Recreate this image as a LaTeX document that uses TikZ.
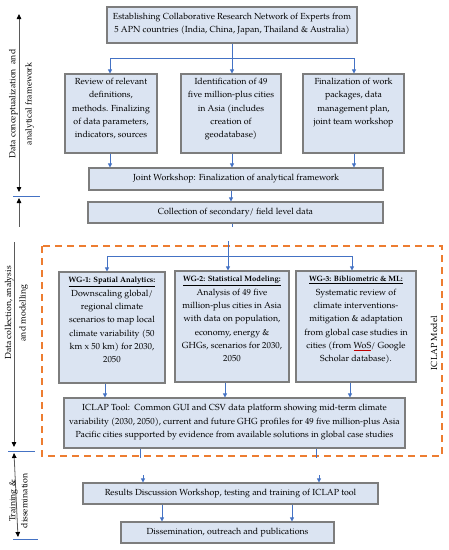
\documentclass[tikz,border=0pt]{standalone}
\usepackage{fontspec}
\setmainfont{TeX Gyre Pagella}
\usetikzlibrary{arrows.meta}
\definecolor{boxfill}{RGB}{219,228,242}
\definecolor{boxline}{RGB}{125,125,125}
\definecolor{connblue}{RGB}{68,114,196}
\definecolor{orng}{RGB}{237,125,49}
\definecolor{axisgray}{RGB}{90,90,90}
\newcommand\mlines[1]{\begin{tabular}{@{}c@{}}#1\end{tabular}}
\newcommand\wgtitle[1]{{\fontsize{7.7}{13.3}\selectfont\underline{\textbf{#1}}}}
\tikzset{
 axtip/.tip={Triangle[black,length=5pt,width=4.5pt]},
 cntip/.tip={Triangle[length=4pt,width=4pt]},
 box/.style={draw=boxline, fill=boxfill, line width=1.1pt, inner sep=0pt},
 txt/.style={inner sep=0pt, font=\fontsize{8.8}{13.3}\selectfont},
 conn/.style={draw=connblue, line width=0.8pt},
 arr/.style={conn, -cntip},
 sep/.style={draw=connblue, line width=0.7pt},
 axisline/.style={draw=axisgray, line width=0.8pt},
}
\begin{document}
\begin{tikzpicture}[x=1pt,y=-1pt]
\useasboundingbox (0,0) rectangle (449,550);

% dashed ICLAP frame
\draw[orng, line width=1.8pt, dash pattern=on 7pt off 5pt] (42,246) rectangle (442,456);
\node[txt, rotate=90] (iclapmodel) at (434,343) {ICLAP Model};

% boxes
\node[box, minimum width=250pt, minimum height=36pt] (top) at (232,25) {};
\node[txt] (toptxt) at ([yshift=2pt]top.center) {\mlines{Establishing Collaborative Research Network of Experts from\\5 APN countries (India, China, Japan, Thailand \& Australia)}};

\node[box, minimum width=92pt, minimum height=79pt] (r1) at (111,113.5) {};
\node[txt, anchor=north] (r1txt) at ([yshift=-1.5pt]r1.north) {\mlines{Review of relevant\\definitions,\\methods. Finalizing\\of data parameters,\\indicators, sources}};
\node[box, minimum width=100pt, minimum height=79pt] (r2) at (231,113.5) {};
\node[txt, anchor=north] (r2txt) at ([yshift=-1.5pt]r2.north) {\mlines{Identification of 49\\five million-plus cities\\in Asia (includes\\creation of\\geodatabase)}};
\node[box, minimum width=101pt, minimum height=79pt] (r3) at (353.5,113.5) {};
\node[txt, anchor=north] (r3txt) at ([yshift=-1.5pt]r3.north) {\mlines{Finalization of work\\packages, data\\management plan,\\joint team workshop}};

\node[box, minimum width=294pt, minimum height=22pt] (joint) at (236,179) {};
\node[txt] (jointtxt) at (joint.center) {Joint Workshop: Finalization of analytical framework};
\node[box, minimum width=295pt, minimum height=21pt] (coll) at (235.5,212.5) {};
\node[txt] (colltxt) at (coll.center) {Collection of secondary/ field level data};

\node[box, minimum width=106pt, minimum height=111pt] (wg1) at (112,327.5) {};
\node[txt, anchor=north] (wg1txt) at ([yshift=-2pt]wg1.north) {\mlines{\wgtitle{WG-1: Spatial Analytics:}\\Downscaling global/\\regional climate\\scenarios to map local\\climate variability (50\\km x 50 km) for 2030,\\2050}};
\node[box, minimum width=114pt, minimum height=111pt] (wg2) at (232,326.5) {};
\node[txt, anchor=north] (wg2txt) at ([yshift=-2pt]wg2.north) {\mlines{\wgtitle{WG-2: Statistical Modeling:}\\Analysis of 49 five\\million-plus cities in Asia\\with data on population,\\economy, energy \&\\GHGs, scenarios for 2030,\\2050}};
\node[box, minimum width=120pt, minimum height=111pt] (wg3) at (356,326.5) {};
\node[txt, anchor=north] (wg3txt) at ([yshift=-2pt]wg3.north) {\mlines{\wgtitle{WG-3: Bibliometric \& ML:}\\Systematic review of\\climate interventions-\\mitigation \& adaptation\\from global case studies in\\cities (from {\color{red!75!black}\underline{\color{black}WoS}}/ Google\\Scholar database).}};

\node[box, minimum width=341pt, minimum height=50pt] (iclap) at (234.5,423) {};
\node[txt] (iclaptxt) at ([yshift=1.5pt]iclap.center) {\mlines{ICLAP Tool:\ \ Common GUI and CSV data platform showing mid-term climate\\variability (2030, 2050), current and future GHG profiles for 49 five million-plus Asia\\Pacific cities supported by evidence from available solutions in global case studies}};

\node[box, minimum width=295pt, minimum height=21pt] (res) at (230.5,493.5) {};
\node[txt] (restxt) at (res.center) {Results Discussion Workshop, testing and training of ICLAP tool};
\node[box, minimum width=213pt, minimum height=21pt] (dis) at (227.5,532.5) {};
\node[txt] (distxt) at (dis.center) {Dissemination, outreach and publications};

% connectors: top to row
\coordinate (s0) at (232,58);
\coordinate (sL) at (110,58);
\coordinate (sR) at (354,58);
\draw[conn] (top.south -| s0) -- (s0);
\draw[conn] (sL) -- (sR);
\draw[arr] (sL) -- (sL |- r1.north);
\draw[arr] (s0) -- (s0 |- r2.north);
\draw[arr] (sR) -- (sR |- r3.north);
% row to joint
\draw[arr] (r1.south -| sL) -- (sL |- joint.north);
\draw[arr] (r2.south -| s0) -- (s0 |- joint.north);
\draw[arr] (r3.south -| sR) -- (sR |- joint.north);
% joint to collection
\coordinate (jc) at (231,190);
\draw[arr] (joint.south -| jc) -- (jc |- coll.north);
% collection to WGs
\coordinate (ct) at (232,227);
\draw[conn] (coll.south -| ct) -- (ct);
\coordinate (w0) at (228,241);
\coordinate (wm) at (228,256);
\coordinate (wL) at (107,256);
\coordinate (wR) at (352,256);
\draw[conn] (w0) -- (wm);
\draw[conn] (wL) -- (wR);
\draw[arr] (wL) -- (wL |- wg1.north);
\draw[arr] (wm) -- (wm |- wg2.north);
\draw[arr] (wR) -- (wR |- wg3.north);
% WGs to ICLAP
\coordinate (i1) at (105,383);
\coordinate (i2) at (225,382);
\coordinate (i3) at (350,382);
\draw[arr] (wg1.south -| i1) -- (i1 |- iclap.north);
\draw[arr] (wg2.south -| i2) -- (i2 |- iclap.north);
\draw[arr] (wg3.south -| i3) -- (i3 |- iclap.north);
% ICLAP to results
\coordinate (b1) at (140,458);
\coordinate (b2) at (316,458);
\draw[conn] (iclap.south -| b1) -- (b1);
\draw[conn] (iclap.south -| b2) -- (b2);
\coordinate (c1) at (143,475);
\coordinate (c2) at (319,475);
\draw[arr] (c1) -- (c1 |- res.north);
\draw[arr] (c2) -- (c2 |- res.north);
% results to dissemination
\coordinate (d1) at (162,504);
\coordinate (d2) at (292,504);
\draw[arr] (res.south -| d1) -- (d1 |- dis.north);
\draw[arr] (res.south -| d2) -- (d2 |- dis.north);

% left axis
\coordinate (a1t) at (19,14);
\coordinate (a1b) at (19,192);
\draw[axisline, axtip-axtip] (a1t) -- (a1b);
\coordinate (sp1l) at (13,196);
\coordinate (sp1r) at (40,196);
\draw[sep] (sp1l) -- (sp1r);
\coordinate (a2t) at (19,198);
\coordinate (a2b) at (19,227);
\draw[axisline, axtip-] (a2t) -- (a2b);
\coordinate (a3t) at (14,242);
\coordinate (a3b) at (14,447);
\draw[axisline, -axtip] (a3t) -- (a3b);
\coordinate (sp2l) at (8,451);
\coordinate (sp2r) at (35,451);
\draw[sep] (sp2l) -- (sp2r);
\coordinate (a4t) at (14,453);
\coordinate (a4b) at (18,537);
\draw[axisline, axtip-axtip] (a4t) -- (a4b);
\coordinate (sp3l) at (13,539);
\coordinate (sp3r) at (38,539);
\draw[sep] (sp3l) -- (sp3r);

\node[txt, rotate=90, font=\fontsize{8.8}{16}\selectfont] (lab1) at (20.3,104) {\mlines{Data conceptualization\ \ and\\analytical framework}};
\node[txt, rotate=90, font=\fontsize{8.8}{14.4}\selectfont] (lab2) at (15.5,313) {\mlines{Data collection, analysis\\and modelling}};
\node[txt, rotate=90, font=\fontsize{8.8}{12}\selectfont] (lab3) at (19,501) {\mlines{Training \&\\dissemination}};
\end{tikzpicture}
\end{document}
